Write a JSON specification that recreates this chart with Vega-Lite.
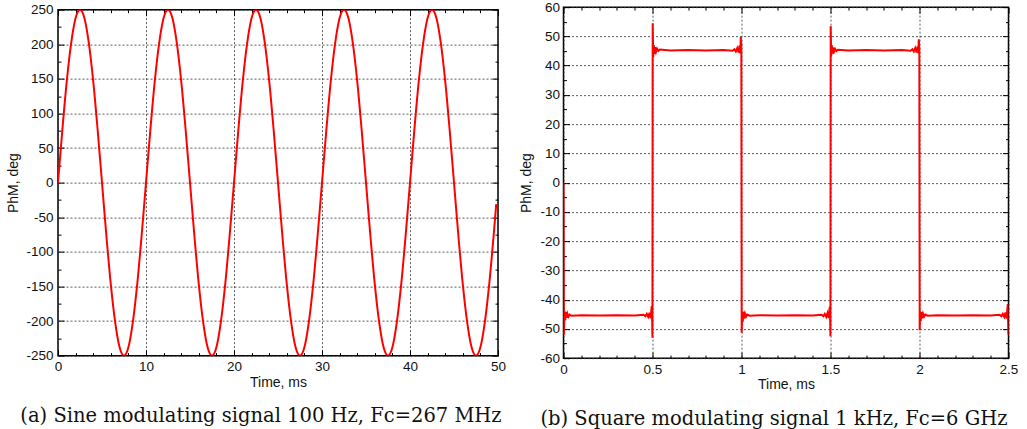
{
  "$schema": "https://vega.github.io/schema/vega-lite/v6.json",
  "padding": {"left": 6, "top": -1, "right": 5, "bottom": 0},
  "spacing": 11.5,
  "center": true,
  "datasets": {
    "sine": [
      {"t":0,"v":0},{"t":0.5,"v":77},{"t":1,"v":147},{"t":1.5,"v":202},{"t":2,"v":238},{"t":2.5,"v":250},{"t":3,"v":238},{"t":3.5,"v":202},{"t":4,"v":147},{"t":4.5,"v":77},
      {"t":5,"v":0},{"t":5.5,"v":-77},{"t":6,"v":-147},{"t":6.5,"v":-202},{"t":7,"v":-238},{"t":7.5,"v":-250},{"t":8,"v":-238},{"t":8.5,"v":-202},{"t":9,"v":-147},{"t":9.5,"v":-77},
      {"t":10,"v":0},{"t":10.5,"v":77},{"t":11,"v":147},{"t":11.5,"v":202},{"t":12,"v":238},{"t":12.5,"v":250},{"t":13,"v":238},{"t":13.5,"v":202},{"t":14,"v":147},{"t":14.5,"v":77},
      {"t":15,"v":0},{"t":15.5,"v":-77},{"t":16,"v":-147},{"t":16.5,"v":-202},{"t":17,"v":-238},{"t":17.5,"v":-250},{"t":18,"v":-238},{"t":18.5,"v":-202},{"t":19,"v":-147},{"t":19.5,"v":-77},
      {"t":20,"v":0},{"t":20.5,"v":77},{"t":21,"v":147},{"t":21.5,"v":202},{"t":22,"v":238},{"t":22.5,"v":250},{"t":23,"v":238},{"t":23.5,"v":202},{"t":24,"v":147},{"t":24.5,"v":77},
      {"t":25,"v":0},{"t":25.5,"v":-77},{"t":26,"v":-147},{"t":26.5,"v":-202},{"t":27,"v":-238},{"t":27.5,"v":-250},{"t":28,"v":-238},{"t":28.5,"v":-202},{"t":29,"v":-147},{"t":29.5,"v":-77},
      {"t":30,"v":0},{"t":30.5,"v":77},{"t":31,"v":147},{"t":31.5,"v":202},{"t":32,"v":238},{"t":32.5,"v":250},{"t":33,"v":238},{"t":33.5,"v":202},{"t":34,"v":147},{"t":34.5,"v":77},
      {"t":35,"v":0},{"t":35.5,"v":-77},{"t":36,"v":-147},{"t":36.5,"v":-202},{"t":37,"v":-238},{"t":37.5,"v":-250},{"t":38,"v":-238},{"t":38.5,"v":-202},{"t":39,"v":-147},{"t":39.5,"v":-77},
      {"t":40,"v":0},{"t":40.5,"v":77},{"t":41,"v":147},{"t":41.5,"v":202},{"t":42,"v":238},{"t":42.5,"v":250},{"t":43,"v":238},{"t":43.5,"v":202},{"t":44,"v":147},{"t":44.5,"v":77},
      {"t":45,"v":0},{"t":45.5,"v":-77},{"t":46,"v":-147},{"t":46.5,"v":-202},{"t":47,"v":-238},{"t":47.5,"v":-250},{"t":48,"v":-238},{"t":48.5,"v":-202},{"t":49,"v":-147},{"t":49.5,"v":-77},
      {"t":49.8,"v":-31}
    ],
    "square": [
      {"t":0,"v":0},{"t":0.002,"v":-52},{"t":0.006,"v":-44},{"t":0.01,"v":-47},{"t":0.014,"v":-44.3},{"t":0.018,"v":-46.2},{"t":0.022,"v":-44.8},{"t":0.028,"v":-45.8},{"t":0.035,"v":-45.1},{"t":0.045,"v":-45.5},
      {"t":0.1,"v":-45.3},{"t":0.2,"v":-45.4},{"t":0.3,"v":-45.3},{"t":0.4,"v":-45.4},{"t":0.45,"v":-45.2},{"t":0.46,"v":-45.7},{"t":0.468,"v":-44.9},{"t":0.476,"v":-45.9},{"t":0.483,"v":-44.5},{"t":0.489,"v":-46.4},{"t":0.493,"v":-43.8},{"t":0.496,"v":-42.2},{"t":0.498,"v":-47},{"t":0.4995,"v":-53},
      {"t":0.501,"v":54.5},{"t":0.504,"v":43},{"t":0.507,"v":47},{"t":0.511,"v":44},{"t":0.515,"v":46.3},{"t":0.52,"v":44.7},{"t":0.526,"v":45.8},{"t":0.533,"v":45},{"t":0.542,"v":45.5},
      {"t":0.6,"v":45.2},{"t":0.7,"v":45.3},{"t":0.8,"v":45.2},{"t":0.9,"v":45.3},{"t":0.95,"v":45.1},{"t":0.96,"v":45.6},{"t":0.968,"v":44.8},{"t":0.976,"v":46},{"t":0.983,"v":44.5},{"t":0.989,"v":46.8},{"t":0.993,"v":44.2},{"t":0.996,"v":49.8},{"t":0.999,"v":47},
      {"t":1.001,"v":-51.3},{"t":1.004,"v":-44},{"t":1.007,"v":-47.5},{"t":1.011,"v":-44.2},{"t":1.015,"v":-46.5},{"t":1.02,"v":-44.8},{"t":1.026,"v":-45.8},{"t":1.033,"v":-45.1},{"t":1.045,"v":-45.5},
      {"t":1.1,"v":-45.3},{"t":1.2,"v":-45.4},{"t":1.3,"v":-45.3},{"t":1.4,"v":-45.4},{"t":1.45,"v":-45.2},{"t":1.46,"v":-45.7},{"t":1.468,"v":-44.9},{"t":1.476,"v":-45.9},{"t":1.483,"v":-44.6},{"t":1.489,"v":-46.3},{"t":1.493,"v":-44},{"t":1.496,"v":-42.5},{"t":1.498,"v":-47},{"t":1.4995,"v":-52.5},
      {"t":1.501,"v":53.5},{"t":1.504,"v":43.2},{"t":1.507,"v":47},{"t":1.511,"v":44.1},{"t":1.515,"v":46.2},{"t":1.52,"v":44.8},{"t":1.526,"v":45.7},{"t":1.533,"v":45},{"t":1.542,"v":45.4},
      {"t":1.6,"v":45.2},{"t":1.7,"v":45.3},{"t":1.8,"v":45.2},{"t":1.9,"v":45.3},{"t":1.95,"v":45.1},{"t":1.96,"v":45.6},{"t":1.968,"v":44.8},{"t":1.976,"v":46},{"t":1.983,"v":44.5},{"t":1.989,"v":46.6},{"t":1.993,"v":44.3},{"t":1.996,"v":49},{"t":1.999,"v":46},
      {"t":2.001,"v":-50.5},{"t":2.004,"v":-44},{"t":2.007,"v":-47.3},{"t":2.011,"v":-44.3},{"t":2.015,"v":-46.4},{"t":2.02,"v":-44.8},{"t":2.026,"v":-45.8},{"t":2.033,"v":-45.1},{"t":2.045,"v":-45.5},
      {"t":2.1,"v":-45.3},{"t":2.2,"v":-45.4},{"t":2.3,"v":-45.3},{"t":2.4,"v":-45.4},{"t":2.45,"v":-45.2},{"t":2.46,"v":-45.7},{"t":2.468,"v":-44.9},{"t":2.476,"v":-45.9},{"t":2.483,"v":-44.4},{"t":2.489,"v":-46.5},{"t":2.493,"v":-43.5},{"t":2.496,"v":-41.5},{"t":2.498,"v":-47},{"t":2.5,"v":-52}
    ]
  },
  "hconcat": [
    {
      "width": 440,
      "height": 346,
      "title": {"text": "(a) Sine modulating signal 100 Hz, Fc=267 MHz", "orient": "bottom", "offset": 18, "dx": -17},
      "data": {"name": "sine"},
      "layer": [
        {
          "mark": {"type": "line", "color": "#ff0000", "strokeWidth": 2, "clip": true, "interpolate": "monotone"},
          "encoding": {
            "x": {"field": "t", "type": "quantitative", "scale": {"domain": [0, 50], "nice": false, "zero": false},
                  "axis": {"orient": "bottom", "values": [0,10,20,30,40,50], "ticks": false, "grid": true, "labelPadding": 4, "title": "Time, ms", "titlePadding": 2, "labelExpr": "'' + datum.value"}},
            "y": {"field": "v", "type": "quantitative", "scale": {"domain": [-250, 250], "nice": false, "zero": false},
                  "axis": {"orient": "left", "values": [-250,-200,-150,-100,-50,0,50,100,150,200,250], "ticks": false, "grid": true, "labelPadding": 5, "title": "PhM, deg", "titlePadding": 5, "labelExpr": "'' + datum.value"}}
          }
        },
        {
          "mark": {"type": "line", "opacity": 0, "clip": true},
          "encoding": {
            "x": {"field": "t", "type": "quantitative", "axis": {"orient": "bottom", "values": [0,2,4,6,8,10,12,14,16,18,20,22,24,26,28,30,32,34,36,38,40,42,44,46,48,50], "labels": false, "grid": false, "title": null, "tickSize": {"condition": {"test": "datum.value % 10 === 0", "value": -6}, "value": -3}}},
            "y": {"field": "v", "type": "quantitative", "axis": {"orient": "left", "values": [-250,-225,-200,-175,-150,-125,-100,-75,-50,-25,0,25,50,75,100,125,150,175,200,225,250], "labels": false, "grid": false, "title": null, "tickSize": {"condition": {"test": "datum.value % 50 === 0", "value": -6}, "value": -3}}}
          }
        },
        {
          "mark": {"type": "line", "opacity": 0, "clip": true},
          "encoding": {
            "x": {"field": "t", "type": "quantitative", "axis": {"orient": "top", "values": [0,2,4,6,8,10,12,14,16,18,20,22,24,26,28,30,32,34,36,38,40,42,44,46,48,50], "labels": false, "grid": false, "title": null, "tickSize": {"condition": {"test": "datum.value % 10 === 0", "value": -6}, "value": -3}}},
            "y": {"field": "v", "type": "quantitative", "axis": {"orient": "right", "values": [-250,-225,-200,-175,-150,-125,-100,-75,-50,-25,0,25,50,75,100,125,150,175,200,225,250], "labels": false, "grid": false, "title": null, "tickSize": {"condition": {"test": "datum.value % 50 === 0", "value": -6}, "value": -3}}}
          }
        }
      ],
      "resolve": {"axis": {"x": "independent", "y": "independent"}}
    },
    {
      "width": 445,
      "height": 351,
      "title": {"text": "(b) Square modulating signal 1 kHz, Fc=6 GHz", "orient": "bottom", "offset": 18, "dx": -12},
      "data": {"name": "square"},
      "layer": [
        {
          "mark": {"type": "line", "color": "#ff0000", "strokeWidth": 2, "clip": true},
          "encoding": {
            "x": {"field": "t", "type": "quantitative", "scale": {"domain": [0, 2.5], "nice": false, "zero": false},
                  "axis": {"orient": "bottom", "values": [0,0.5,1,1.5,2,2.5], "ticks": false, "grid": true, "labelPadding": 4, "title": "Time, ms", "titlePadding": 2, "labelExpr": "'' + datum.value"}},
            "y": {"field": "v", "type": "quantitative", "scale": {"domain": [-60, 60], "nice": false, "zero": false},
                  "axis": {"orient": "left", "values": [-60,-50,-40,-30,-20,-10,0,10,20,30,40,50,60], "ticks": false, "grid": true, "labelPadding": 4, "title": "PhM, deg", "titlePadding": 6, "labelExpr": "'' + datum.value"}}
          }
        },
        {
          "mark": {"type": "line", "opacity": 0, "clip": true},
          "encoding": {
            "x": {"field": "t", "type": "quantitative", "axis": {"orient": "bottom", "values": [0,0.1,0.2,0.3,0.4,0.5,0.6,0.7,0.8,0.9,1,1.1,1.2,1.3,1.4,1.5,1.6,1.7,1.8,1.9,2,2.1,2.2,2.3,2.4,2.5], "labels": false, "grid": false, "title": null, "tickSize": {"condition": {"test": "abs(datum.value*2 - round(datum.value*2)) < 0.000001", "value": -6}, "value": -3}}},
            "y": {"field": "v", "type": "quantitative", "axis": {"orient": "left", "values": [-60,-55,-50,-45,-40,-35,-30,-25,-20,-15,-10,-5,0,5,10,15,20,25,30,35,40,45,50,55,60], "labels": false, "grid": false, "title": null, "tickSize": {"condition": {"test": "datum.value % 10 === 0", "value": -6}, "value": -3}}}
          }
        },
        {
          "mark": {"type": "line", "opacity": 0, "clip": true},
          "encoding": {
            "x": {"field": "t", "type": "quantitative", "axis": {"orient": "top", "values": [0,0.1,0.2,0.3,0.4,0.5,0.6,0.7,0.8,0.9,1,1.1,1.2,1.3,1.4,1.5,1.6,1.7,1.8,1.9,2,2.1,2.2,2.3,2.4,2.5], "labels": false, "grid": false, "title": null, "tickSize": {"condition": {"test": "abs(datum.value*2 - round(datum.value*2)) < 0.000001", "value": -6}, "value": -3}}},
            "y": {"field": "v", "type": "quantitative", "axis": {"orient": "right", "values": [-60,-55,-50,-45,-40,-35,-30,-25,-20,-15,-10,-5,0,5,10,15,20,25,30,35,40,45,50,55,60], "labels": false, "grid": false, "title": null, "tickSize": {"condition": {"test": "datum.value % 10 === 0", "value": -6}, "value": -3}}}
          }
        }
      ],
      "resolve": {"axis": {"x": "independent", "y": "independent"}}
    }
  ],
  "config": {
    "font": "Liberation Sans",
    "view": {"stroke": "#000000", "strokeWidth": 1.5},
    "axis": {"labelFont": "Liberation Sans", "labelFontSize": 13.5, "labelColor": "#111111", "labelFlush": false, "labelOverlap": false,
             "titleFont": "Liberation Sans", "titleFontSize": 14, "titleFontWeight": "normal", "titleColor": "#111111",
             "domain": false, "gridColor": "#333333", "gridDash": [2, 2], "gridWidth": 0.8, "tickColor": "#000000", "tickWidth": 1},
    "title": {"font": "DejaVu Serif", "fontSize": 19.5, "fontWeight": "normal", "color": "#111111"}
  }
}
